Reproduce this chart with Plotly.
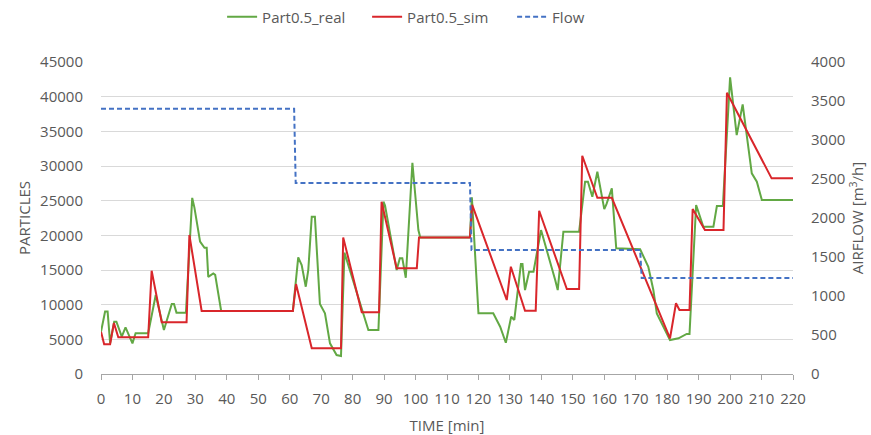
import plotly.graph_objects as go

# Measured particle counts (real sensor)
real_t = [0, 1.3, 2.1, 2.9, 4.2, 4.9, 6.6, 7.8, 10, 11, 15, 17.4, 20, 22.5, 23.2, 24, 27, 29, 29.7,
          31.5, 32.9, 33.6, 34.1, 35.7, 36.3, 38.2, 61, 62.7, 63.8, 65.1, 65.9, 67, 68, 69.6, 71.2,
          72.8, 74.9, 76.3, 77.4, 85, 88.2, 89.8, 90.3, 94, 95, 95.8, 96.9, 99, 100.9, 101.5, 117.3,
          117.9, 120, 124.7, 126.9, 128.7, 130.4, 131.4, 133.5, 134, 134.8, 136.1, 137.5, 139.9,
          144.4, 145.2, 147, 152, 153.9, 154.8, 156.2, 157.8, 160, 160.7, 162.4, 163.8, 171.4, 174,
          175.6, 176.7, 180.9, 183.6, 186.2, 187.1, 189.2, 191.5, 194.7, 195.8, 197.7, 200, 202.1,
          204, 206.9, 208.5, 210.1, 220]
real_v = [6100, 9000, 9000, 4470, 7550, 7550, 5400, 6730, 4420, 5870, 5870, 11400, 6340, 10100, 10100,
          8850, 8850, 25400, 24000, 19100, 18200, 18200, 14000, 14500, 14300, 9100, 9100, 16830,
          15720, 12590, 15000, 22680, 22680, 10100, 8750, 4420, 2740, 2600, 17500, 6340, 6340, 24850,
          24300, 15000, 16680, 16680, 13890, 30470, 20770, 19700, 19700, 25500, 8750, 8750, 6820,
          4510, 8260, 7790, 15860, 15860, 12110, 14760, 14760, 20760, 13550, 12110, 20520, 20520,
          27730, 27730, 25570, 29170, 23790, 24500, 26780, 18130, 17980, 15470, 12110, 8750, 4900,
          5150, 5770, 5770, 24370, 21240, 21240, 24230, 24230, 42780, 34460, 38890, 28940, 27730,
          25090, 25090]

# Simulated particle counts
sim_t = [0, 1, 2.9, 4.1, 5.5, 15, 16.1, 19.3, 27.2, 28.1, 32, 61, 62, 67, 76.3, 77, 82.9, 88.4, 89.2,
         94, 100.4, 101.1, 117.3, 118, 129, 130.3, 134.8, 138.2, 139.3, 148.1, 152, 153, 157.8, 162.4,
         180.9, 182.8, 183.9, 187.1, 188.1, 192, 197.9, 199, 213.2, 220]
sim_v = [6100, 4300, 4300, 7350, 5300, 5300, 14900, 7450, 7450, 20050, 9100, 9100, 12980, 3700, 3700,
         19700, 8900, 8900, 24850, 15240, 15240, 19700, 19700, 24400, 10670, 15470, 9130, 9130, 23550,
         12260, 12260, 31480, 25420, 25420, 5150, 10200, 9230, 9230, 23800, 20760, 20760, 40560,
         28220, 28220]

# Airflow set-points [m3/h]
flow_t = [0, 61.4, 61.9, 117.3, 117.8, 171.4, 171.9, 220]
flow_v = [3400, 3400, 2450, 2450, 1590, 1590, 1230, 1230]

x_ticks = list(range(0, 221, 10))
left_ticks = list(range(0, 45001, 5000))
right_ticks = list(range(0, 4001, 500))

FONT = "Open Sans"
TXT = "#595959"

fig = go.Figure()
fig.add_trace(go.Scatter(x=real_t, y=real_v, name="Part0.5_real", mode="lines",
                         line=dict(color="#62A844", width=2)))
fig.add_trace(go.Scatter(x=sim_t, y=sim_v, name="Part0.5_sim", mode="lines",
                         line=dict(color="#D9262B", width=2)))
fig.add_trace(go.Scatter(x=flow_t, y=flow_v, name="Flow", mode="lines", yaxis="y2",
                         line=dict(color="#4472C4", width=2, dash="5px,3px")))

fig.update_layout(
    width=871, height=435,
    margin=dict(l=101, r=78, t=62, b=61, autoexpand=False),
    paper_bgcolor="white", plot_bgcolor="white",
    font=dict(family=FONT, size=15, color=TXT),
    showlegend=True,
    legend=dict(orientation="h", xref="container", yref="container",
                x=0.255, xanchor="left", y=0.961, yanchor="middle",
                font=dict(size=15, color=TXT), itemwidth=30, entrywidth=100,
                bgcolor="rgba(0,0,0,0)"),
    xaxis=dict(range=[0, 220], tickvals=x_ticks, ticktext=[str(v) for v in x_ticks],
               automargin=False,
               showgrid=False, zeroline=False, showline=True, linecolor="#A6A6A6", linewidth=1,
               ticks="outside", ticklen=5, tickcolor="#A6A6A6", ticklabelstandoff=6,
               title=dict(text="TIME [min]", standoff=13, font=dict(size=15, color=TXT))),
    yaxis=dict(range=[0, 45000], tickvals=left_ticks, ticktext=[str(v) for v in left_ticks],
               automargin=False,
               showgrid=True, gridcolor="#D9D9D9", gridwidth=1, zeroline=False, showline=False,
               ticks="", ticklabelstandoff=17,
               title=dict(text="PARTICLES", standoff=5, font=dict(size=15, color=TXT))),
    yaxis2=dict(range=[0, 4000], tickvals=right_ticks, ticktext=[str(v) for v in right_ticks],
                automargin=False,
                overlaying="y", side="right", showgrid=False, zeroline=False, showline=False,
                ticks="", ticklabelstandoff=17,
                title=dict(text="AIRFLOW [m<sup>3</sup>/h]", standoff=8, font=dict(size=15, color=TXT))),
)

fig.write_html("out.html")
